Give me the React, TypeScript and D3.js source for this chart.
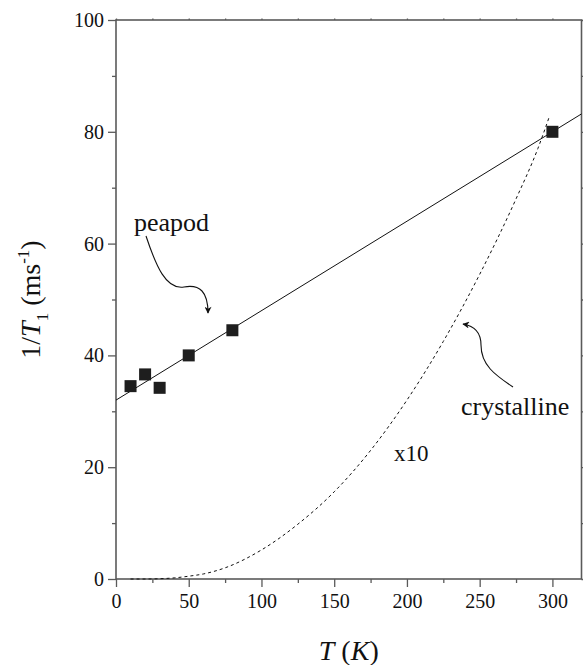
import React, { useRef, useEffect } from 'react';
import * as d3 from 'd3';

// peapod measurements
const peapodT = [10, 20, 30, 50, 80, 300];
const peapodRate = [34.5, 36.6, 34.2, 40, 44.5, 80];
// linear fit through the peapod data
const fitT = [0, 320];
const fitRate = [32, 83.2];
// crystalline curve (x10)
const crystT = [10, 20, 30, 40, 50, 60, 75, 100, 125, 150, 175, 200, 225, 250, 275, 290, 298];
const crystRate = [0, 0, 0.05, 0.2, 0.5, 0.9, 2.0, 5.2, 9.8, 15.6, 23, 32, 42.5, 54.5, 68, 77, 82.8];

const xTicks = [0, 50, 100, 150, 200, 250, 300];
const xMinor = [25, 75, 125, 175, 225, 275];
const yTicks = [0, 20, 40, 60, 80, 100];
const yMinor = [10, 30, 50, 70, 90];

const W = 583;
const H = 665;

const App = () => {
  const svgRef = useRef(null);

  useEffect(() => {
    const margin = { top: 20, right: 1.5, bottom: 86, left: 116 };
    const width = W - margin.left - margin.right;
    const height = H - margin.top - margin.bottom;
    const font = '"Liberation Serif", "Times New Roman", serif';
    const axisColor = '#5a5a5a';

    const svg = d3.select(svgRef.current)
      .attr('width', W)
      .attr('height', H);

    svg.selectAll('*').remove();

    const defs = svg.append('defs');
    defs.append('marker')
      .attr('id', 'arrow')
      .attr('viewBox', '0 0 10 10')
      .attr('refX', 9)
      .attr('refY', 5)
      .attr('markerWidth', 10)
      .attr('markerHeight', 7)
      .attr('markerUnits', 'userSpaceOnUse')
      .attr('orient', 'auto')
      .append('path')
      .attr('d', 'M0,0 L10,5 L0,10 L3,5 Z')
      .attr('fill', '#111');

    const chart = svg.append('g')
      .attr('transform', `translate(${margin.left},${margin.top})`);

    const x = d3.scaleLinear().domain([0, 320]).range([0, width]);
    const y = d3.scaleLinear().domain([0, 100]).range([height, 0]);

    const styleAxis = (g, size) => {
      g.select('.domain').remove();
      g.selectAll('line').attr('stroke', axisColor).attr('stroke-width', 1.3);
      g.selectAll('text')
        .attr('fill', '#111')
        .style('font-family', font)
        .style('font-size', `${size}px`);
    };

    // bottom axis
    chart.append('g')
      .attr('transform', `translate(0,${height})`)
      .call(d3.axisBottom(x).tickValues(xTicks).tickSize(8).tickSizeOuter(0).tickPadding(7))
      .call(g => styleAxis(g, 20));
    chart.append('g')
      .attr('transform', `translate(0,${height})`)
      .call(d3.axisBottom(x).tickValues(xMinor).tickSize(4).tickFormat(() => ''))
      .call(g => styleAxis(g, 20));

    // left axis
    chart.append('g')
      .call(d3.axisLeft(y).tickValues(yTicks).tickSize(8).tickSizeOuter(0).tickPadding(4))
      .call(g => styleAxis(g, 20));
    chart.append('g')
      .call(d3.axisLeft(y).tickValues(yMinor).tickSize(4).tickFormat(() => ''))
      .call(g => styleAxis(g, 20));

    // top and right axes, unlabeled
    chart.append('g')
      .call(d3.axisTop(x).tickValues([...xTicks, ...xMinor]).tickSize(1.5).tickFormat(() => ''))
      .call(g => styleAxis(g, 20));
    chart.append('g')
      .attr('transform', `translate(${width},0)`)
      .call(d3.axisRight(y).tickValues([...yTicks, ...yMinor]).tickSize(4).tickFormat(() => ''))
      .call(g => styleAxis(g, 20));

    // frame
    chart.append('rect')
      .attr('x', 0)
      .attr('y', 0)
      .attr('width', width)
      .attr('height', height)
      .attr('fill', 'none')
      .attr('stroke', axisColor)
      .attr('stroke-width', 1.6);

    // fit line
    const line = d3.line().x(d => x(d[0])).y(d => y(d[1]));
    chart.append('path')
      .datum(fitT.map((t, i) => [t, fitRate[i]]))
      .attr('d', line)
      .attr('fill', 'none')
      .attr('stroke', '#111')
      .attr('stroke-width', 1);

    // crystalline dashed curve
    chart.append('path')
      .datum(crystT.map((t, i) => [t, crystRate[i]]))
      .attr('d', line.curve(d3.curveMonotoneX))
      .attr('fill', 'none')
      .attr('stroke', '#111')
      .attr('stroke-width', 1)
      .attr('stroke-dasharray', '3,3');

    // peapod squares
    const s = 12;
    chart.selectAll('.pt')
      .data(peapodT.map((t, i) => [t, peapodRate[i]]))
      .enter()
      .append('rect')
      .attr('x', d => x(d[0]) - s / 2)
      .attr('y', d => y(d[1]) - s / 2)
      .attr('width', s)
      .attr('height', s)
      .attr('fill', '#1e1e1e');

    // annotations
    svg.append('text')
      .attr('x', 134)
      .attr('y', 231)
      .text('peapod')
      .style('font-family', font)
      .style('font-size', '26px')
      .attr('fill', '#111');
    svg.append('path')
      .attr('d', 'M146,236 C156,266 166,290 184,287 C200,284 208,292 208,313')
      .attr('fill', 'none')
      .attr('stroke', '#111')
      .attr('stroke-width', 1.1)
      .attr('marker-end', 'url(#arrow)');

    svg.append('text')
      .attr('x', 461)
      .attr('y', 415)
      .text('crystalline')
      .style('font-family', font)
      .style('font-size', '26px')
      .attr('fill', '#111');
    svg.append('path')
      .attr('d', 'M513,387 C495,375 481,365 481,345 C481,333 475,326 463,324')
      .attr('fill', 'none')
      .attr('stroke', '#111')
      .attr('stroke-width', 1.1)
      .attr('marker-end', 'url(#arrow)');

    svg.append('text')
      .attr('x', 394)
      .attr('y', 461)
      .text('x10')
      .style('font-family', font)
      .style('font-size', '23px')
      .attr('fill', '#111');

    // axis titles
    const xt = svg.append('text')
      .attr('x', margin.left + width / 2)
      .attr('y', 660)
      .attr('text-anchor', 'middle')
      .style('font-family', font)
      .style('font-size', '28px')
      .attr('fill', '#111');
    xt.append('tspan').style('font-style', 'italic').text('T');
    xt.append('tspan').text(' (');
    xt.append('tspan').style('font-style', 'italic').text('K');
    xt.append('tspan').text(')');

    const yt = svg.append('text')
      .attr('transform', `translate(40,${margin.top + height / 2}) rotate(-90)`)
      .attr('text-anchor', 'middle')
      .style('font-family', font)
      .style('font-size', '28px')
      .attr('fill', '#111');
    yt.append('tspan').text('1/');
    yt.append('tspan').style('font-style', 'italic').text('T');
    yt.append('tspan').attr('dy', 8).style('font-size', '17px').text('1');
    yt.append('tspan').attr('dy', -8).text(' (ms');
    yt.append('tspan').attr('dy', -11).style('font-size', '17px').text('-1');
    yt.append('tspan').attr('dy', 11).text(')');
  }, []);

  return <svg ref={svgRef} style={{ position: 'absolute', left: 0, top: 0 }}></svg>;
};

export default App;
